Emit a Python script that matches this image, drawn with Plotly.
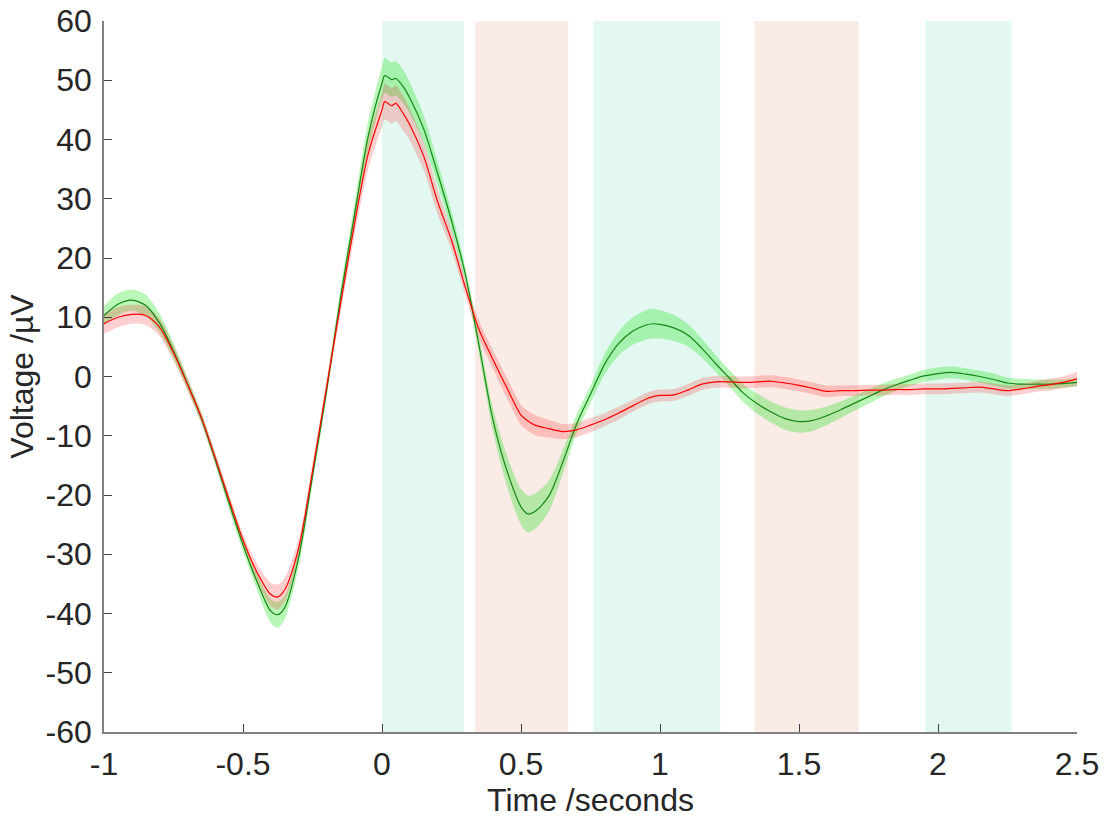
import plotly.graph_objects as go

# Sample times (seconds)
time_s = [-1.0, -0.95, -0.9, -0.85, -0.8, -0.75, -0.7, -0.65, -0.6, -0.55,
          -0.5, -0.45, -0.4, -0.375, -0.35, -0.3, -0.25, -0.2, -0.15, -0.1,
          -0.05, 0.0, 0.01, 0.035, 0.05, 0.075, 0.1, 0.15, 0.2, 0.25,
          0.3, 0.35, 0.4, 0.45, 0.5, 0.525, 0.55, 0.6, 0.65, 0.7,
          0.75, 0.8, 0.85, 0.9, 0.95, 0.975, 1.0, 1.05, 1.1, 1.15,
          1.2, 1.25, 1.3, 1.35, 1.4, 1.45, 1.5, 1.55, 1.6, 1.65,
          1.7, 1.75, 1.8, 1.85, 1.9, 1.95, 2.0, 2.05, 2.1, 2.15,
          2.2, 2.25, 2.3, 2.35, 2.4, 2.45, 2.5]

# Condition A (green): mean voltage and standard error (µV)
green_mean = [10.3, 12.2, 12.9, 12.0, 9.0, 4.3, -1.2, -7.0, -14.0, -21.4,
              -28.4, -34.6, -39.6, -40.2, -39.0, -30.6, -16.8, -2.6, 13.1, 27.0,
              40.5, 49.5, 50.8, 50.1, 50.3, 49.0, 47.0, 41.8, 34.3, 26.3,
              17.2, 5.0, -7.5, -16.0, -22.0, -23.2, -22.8, -20.2, -14.5, -8.0,
              -3.0, 2.0, 5.5, 7.6, 8.7, 8.9, 8.8, 8.2, 7.0, 4.8,
              2.2, -0.3, -2.8, -4.6, -6.0, -7.1, -7.6, -7.4, -6.6, -5.6,
              -4.5, -3.4, -2.3, -1.4, -0.6, 0.1, 0.5, 0.7, 0.4, 0.0,
              -0.5, -1.1, -1.3, -1.3, -1.3, -1.2, -1.0]
green_sem = [1.6, 1.8, 1.8, 1.8, 1.6, 1.3, 1.0, 0.9, 0.9, 1.0,
             1.1, 1.4, 2.0, 2.2, 2.0, 1.6, 1.2, 1.2, 1.5, 2.0,
             2.5, 2.8, 2.9, 2.9, 2.9, 2.8, 2.6, 2.3, 1.9, 1.6,
             1.3, 1.5, 2.0, 2.6, 3.0, 3.1, 3.0, 2.6, 2.0, 1.6,
             1.5, 1.7, 2.0, 2.3, 2.5, 2.5, 2.4, 2.2, 1.9, 1.6,
             1.4, 1.4, 1.5, 1.7, 1.8, 1.9, 1.9, 1.8, 1.6, 1.4,
             1.3, 1.2, 1.1, 1.0, 1.0, 1.0, 1.0, 1.0, 1.0, 1.0,
             1.0, 0.9, 0.9, 0.8, 0.8, 0.7, 0.7]

# Condition B (red): mean voltage and standard error (µV)
red_mean = [8.9, 10.0, 10.5, 10.3, 8.3, 4.0, -1.3, -6.9, -13.7, -20.8,
            -27.6, -33.0, -36.8, -37.2, -36.0, -29.0, -16.0, -2.0, 12.0, 25.5,
            37.5, 45.0, 46.4, 45.7, 46.1, 44.5, 42.5, 37.2, 29.5, 23.0,
            15.0, 7.8, 2.8, -2.0, -6.5, -7.5, -8.2, -8.8, -9.3, -9.0,
            -8.2, -7.3, -6.2, -5.0, -3.8, -3.4, -3.2, -3.1, -2.3, -1.3,
            -0.9, -0.9, -1.0, -0.9, -0.8, -1.1, -1.5, -2.0, -2.5, -2.4,
            -2.4, -2.3, -2.3, -2.2, -2.2, -2.1, -2.1, -2.0, -1.9, -1.8,
            -2.1, -2.4, -2.1, -1.7, -1.4, -1.0, -0.4]
red_sem = [1.7, 1.7, 1.6, 1.6, 1.5, 1.3, 1.1, 1.0, 1.0, 1.0,
           1.1, 1.4, 2.0, 2.1, 2.0, 1.6, 1.3, 1.3, 1.6, 2.1,
           2.6, 2.9, 3.0, 3.0, 3.0, 2.9, 2.7, 2.4, 2.1, 1.7,
           1.4, 1.5, 1.6, 1.7, 1.7, 1.7, 1.7, 1.5, 1.3, 1.2,
           1.2, 1.1, 1.1, 1.0, 1.0, 1.0, 1.0, 1.0, 1.0, 1.0,
           1.0, 1.0, 1.0, 1.0, 1.0, 1.0, 1.0, 1.0, 1.0, 0.9,
           0.9, 0.9, 0.9, 0.9, 0.9, 0.9, 0.9, 0.9, 0.9, 0.9,
           0.9, 0.9, 0.9, 0.9, 1.0, 1.0, 1.2]

# Analysis windows (seconds) and their type
window_start = [0.0, 0.335, 0.76, 1.34, 1.955]
window_end = [0.295, 0.67, 1.217, 1.715, 2.265]
window_kind = ["green", "red", "green", "red", "green"]

# Axis ticks
x_ticks = [-1, -0.5, 0, 0.5, 1, 1.5, 2, 2.5]
x_tick_text = ["-1", "-0.5", "0", "0.5", "1", "1.5", "2", "2.5"]
y_ticks = [-60, -50, -40, -30, -20, -10, 0, 10, 20, 30, 40, 50, 60]
y_tick_text = ["-60", "-50", "-40", "-30", "-20", "-10", "0",
               "10", "20", "30", "40", "50", "60"]

window_fill = {"green": "rgb(227,248,241)", "red": "rgb(251,235,231)"}

fig = go.Figure()


def add_band(mean, sem, fill):
    upper = [m + s for m, s in zip(mean, sem)]
    lower = [m - s for m, s in zip(mean, sem)]
    fig.add_trace(go.Scatter(x=time_s, y=upper, mode="lines",
                             line=dict(width=0, shape="spline", smoothing=0.8),
                             hoverinfo="skip", showlegend=False))
    fig.add_trace(go.Scatter(x=time_s, y=lower, mode="lines",
                             line=dict(width=0, shape="spline", smoothing=0.8),
                             fill="tonexty", fillcolor=fill,
                             hoverinfo="skip", showlegend=False))


add_band(green_mean, green_sem, "rgba(0,225,0,0.28)")
add_band(red_mean, red_sem, "rgba(255,0,0,0.19)")

fig.add_trace(go.Scatter(x=time_s, y=green_mean, mode="lines",
                         line=dict(color="rgb(20,135,20)", width=1.2,
                                   shape="spline", smoothing=0.8),
                         showlegend=False))
fig.add_trace(go.Scatter(x=time_s, y=red_mean, mode="lines",
                         line=dict(color="rgb(255,0,0)", width=1.2,
                                   shape="spline", smoothing=0.8),
                         showlegend=False))

for x0, x1, kind in zip(window_start, window_end, window_kind):
    fig.add_shape(type="rect", xref="x", yref="y", x0=x0, x1=x1, y0=-60, y1=60,
                  fillcolor=window_fill[kind], line=dict(width=0), layer="below")

axis_font = dict(family="Liberation Sans, Arial, sans-serif", size=32, color="#262626")

fig.update_layout(
    width=1108, height=821,
    margin=dict(l=104, r=31, t=21, b=89),
    paper_bgcolor="white", plot_bgcolor="white",
    font=axis_font,
    xaxis=dict(range=[-1, 2.5], tickvals=x_ticks, ticktext=x_tick_text,
               showline=True, linecolor="#808080", linewidth=1.5,
               ticks="inside", ticklen=8, tickcolor="#404040", tickwidth=1,
               showgrid=False, zeroline=False, tickfont=axis_font,
               ticklabelstandoff=3, automargin=False,
               title=dict(text="Time /seconds", font=axis_font, standoff=2)),
    yaxis=dict(range=[-60, 60], tickvals=y_ticks, ticktext=y_tick_text,
               showline=True, linecolor="#808080", linewidth=1.5,
               ticks="inside", ticklen=8, tickcolor="#404040", tickwidth=1,
               showgrid=False, zeroline=False, tickfont=axis_font,
               ticklabelstandoff=4, automargin=False,
               title=dict(text="Voltage /µV", font=axis_font, standoff=2)),
)

fig.write_html("out.html")
